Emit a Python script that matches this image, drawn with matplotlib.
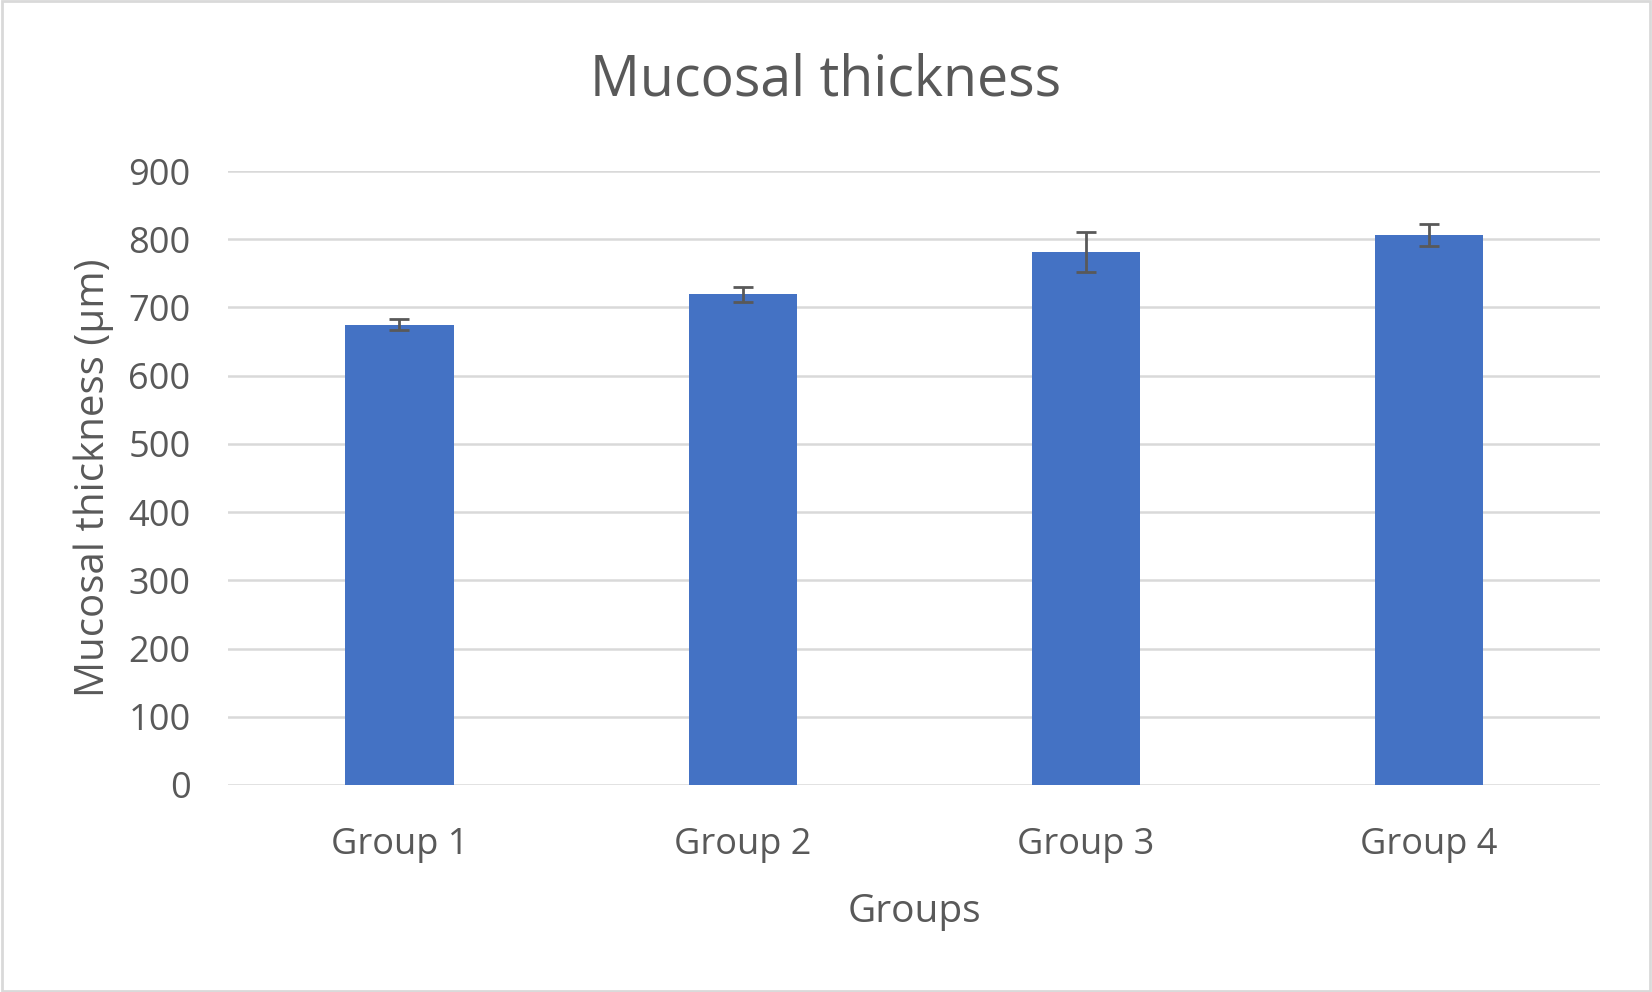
import matplotlib
matplotlib.use('Agg')
import matplotlib.pyplot as plt

groups = ['Group 1', 'Group 2', 'Group 3', 'Group 4']
thickness = [675, 719, 781, 806]
errors = [8, 11, 29, 16]

txt = '#595959'
plt.rcParams['font.family'] = ['Open Sans', 'DejaVu Sans']

fig = plt.figure(figsize=(16.52, 9.92), dpi=100)
ax = fig.add_axes([0.138, 0.2087, 0.8306, 0.6189])

x = range(len(groups))
ax.bar(x, thickness, width=0.315, color='#4472C4', zorder=3)
ax.errorbar(x, thickness, yerr=errors, fmt='none', ecolor=txt,
            elinewidth=2.0, capsize=7.5, capthick=2.0, zorder=4)

ax.set_xlim(-0.5, 3.5)
ax.set_ylim(0, 900)
ax.set_yticks(range(0, 901, 100))
ax.set_xticks(list(x))
ax.set_xticklabels(groups)
ax.grid(axis='y', color='#D9D9D9', linewidth=1.8, zorder=0)
for s in ['top', 'right', 'left', 'bottom']:
    ax.spines[s].set_visible(False)
ax.tick_params(axis='both', length=0, labelsize=26, labelcolor=txt)
ax.tick_params(axis='y', pad=27)
ax.tick_params(axis='x', pad=30)

# title is centred on the whole chart, not the plot area
fig.suptitle('Mucosal thickness', fontsize=40, color=txt, x=0.5, y=0.918, va='center')
ax.set_xlabel('Groups', fontsize=28, color=txt, labelpad=22)
ax.set_ylabel('Mucosal thickness (μm)', fontsize=29, color=txt, labelpad=10)

# light frame around the chart
fig.patches.append(plt.Rectangle((0.001, 0.001), 0.998, 0.998, transform=fig.transFigure,
                                 fill=False, edgecolor='#D9D9D9', linewidth=2))

fig.savefig('out.png', dpi=100, facecolor='white')
